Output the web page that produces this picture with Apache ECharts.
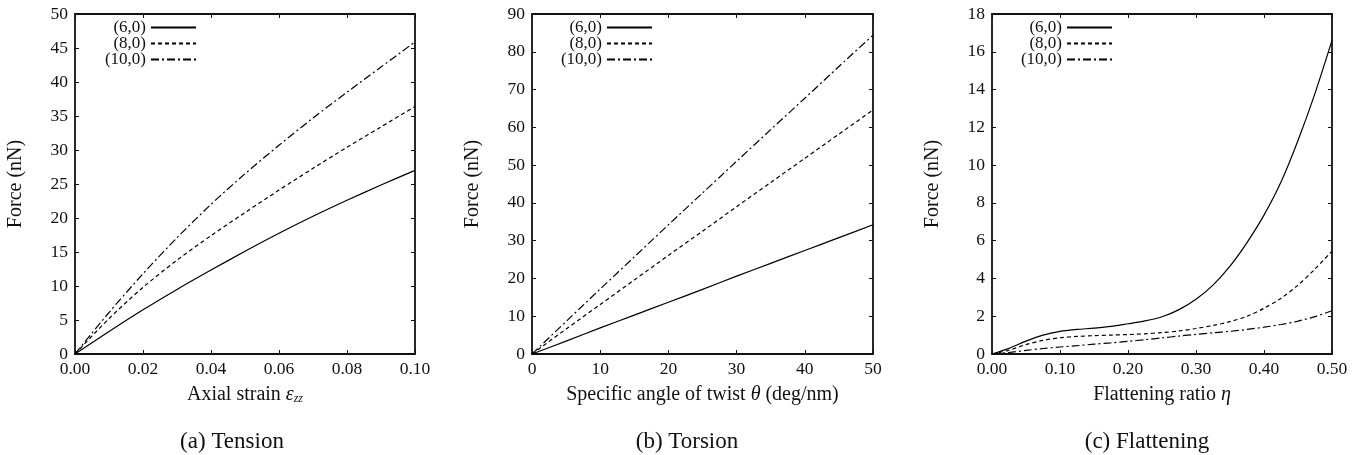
<!DOCTYPE html>
<html>
<head>
<meta charset="utf-8">
<script src="https://cdn.jsdelivr.net/npm/echarts@6/dist/echarts.min.js"></script>
<style>html,body{margin:0;padding:0;background:#fff}#c{width:1363px;height:455px}</style>
</head>
<body>
<div id="c"></div>
<script>
// ---------- data ----------
const seriesNames = ['(6,0)', '(8,0)', '(10,0)'];

// (a) Tension
const tensionX = [0, 0.01, 0.02, 0.03, 0.04, 0.05, 0.06, 0.07, 0.08, 0.09, 0.10];
const tension60 = [0, 3.3, 6.5, 9.5, 12.35, 15.1, 17.75, 20.25, 22.6, 24.85, 27.0];
const tension80 = [0, 5.2, 9.8, 13.8, 17.4, 20.8, 24.1, 27.3, 30.4, 33.4, 36.4];
const tension100 = [0, 6.1, 11.8, 17.1, 22.0, 26.5, 30.7, 34.7, 38.5, 42.2, 45.9];

// (b) Torsion
const torsionX = [0, 5, 10, 15, 20, 25, 30, 35, 40, 45, 50];
const torsion60 = [0, 3.4, 6.9, 10.3, 13.7, 17.1, 20.6, 24.0, 27.4, 30.8, 34.2];
const torsion80 = [0, 6.6, 13.1, 19.6, 26.1, 32.5, 39.0, 45.4, 51.8, 58.2, 64.6];
const torsion100 = [0, 8.6, 17.2, 25.7, 34.2, 42.6, 51.0, 59.4, 67.7, 76.1, 84.4];

// (c) Flattening
const flatX = [0, 0.025, 0.05, 0.075, 0.1, 0.125, 0.15, 0.175, 0.2, 0.225, 0.25, 0.275, 0.3, 0.325, 0.35, 0.375, 0.4, 0.425, 0.45, 0.475, 0.5];
const flat60 = [0, 0.3, 0.68, 1.0, 1.2, 1.3, 1.37, 1.46, 1.6, 1.75, 1.97, 2.35, 2.9, 3.65, 4.65, 5.9, 7.35, 9.1, 11.3, 13.8, 16.6];
const flat80 = [0, 0.2, 0.5, 0.72, 0.86, 0.93, 0.97, 1.0, 1.03, 1.07, 1.13, 1.22, 1.35, 1.51, 1.71, 2.0, 2.42, 2.95, 3.65, 4.5, 5.45];
const flat100 = [0, 0.08, 0.19, 0.29, 0.37, 0.44, 0.52, 0.59, 0.67, 0.76, 0.85, 0.95, 1.04, 1.12, 1.2, 1.3, 1.42, 1.56, 1.74, 1.98, 2.29];

const panelTitles = ['(a) Tension', '(b) Torsion', '(c) Flattening'];

// ---------- styling ----------
const FONT = '"Liberation Serif", "DejaVu Serif", serif';
const INK = '#111';
const lineTypes = ['solid', [4, 3], [8, 3, 2, 3]];

const panels = [
  {x: tensionX, ys: [tension60, tension80, tension100], xmin: 0, xmax: 0.1, xint: 0.02, ymax: 50, yint: 5,
   fmt: v => v.toFixed(2), xname: 'Axial strain {it|ε}{sub|zz}', grid: {left: 75, top: 14, width: 340, height: 340},
   legendRight: 1166, nameX: 232},
  {x: torsionX, ys: [torsion60, torsion80, torsion100], xmin: 0, xmax: 50, xint: 10, ymax: 90, yint: 10,
   fmt: v => String(v), xname: 'Specific angle of twist {it|θ} (deg/nm)', grid: {left: 532, top: 14, width: 341, height: 340},
   legendRight: 710, nameX: 687},
  {x: flatX, ys: [flat60, flat80, flat100], xmin: 0, xmax: 0.5, xint: 0.1, ymax: 18, yint: 2,
   fmt: v => v.toFixed(2), xname: 'Flattening ratio {it|η}', grid: {left: 992, top: 14, width: 340, height: 340},
   legendRight: 250, nameX: 1147}
];

const axisLine = {show: true, onZero: false, lineStyle: {color: INK, width: 1.8}};
const axisTick = {show: true, inside: true, length: 4, lineStyle: {color: INK, width: 1}};
const labelStyle = {color: INK, fontFamily: FONT, fontSize: 17.5};
const rich = {
  it: {fontFamily: FONT, fontSize: 20, fontStyle: 'italic', color: INK},
  sub: {fontFamily: FONT, fontSize: 12, fontStyle: 'italic', color: INK, verticalAlign: 'bottom', lineHeight: 12}
};

const grids = [], xAxes = [], yAxes = [], series = [], legends = [], graphics = [];
panels.forEach((p, i) => {
  grids.push(p.grid);
  xAxes.push({type: 'value', gridIndex: i, position: 'bottom', min: p.xmin, max: p.xmax, interval: p.xint,
    axisLine, axisTick, splitLine: {show: false},
    axisLabel: Object.assign({margin: 6, formatter: p.fmt}, labelStyle),
    name: p.xname, nameLocation: 'middle', nameGap: 31,
    nameTextStyle: {color: INK, fontFamily: FONT, fontSize: 20, rich}});
  xAxes.push({type: 'value', gridIndex: i, position: 'top', min: p.xmin, max: p.xmax, interval: p.xint,
    axisLine, axisTick, splitLine: {show: false}, axisLabel: {show: false}});
  yAxes.push({type: 'value', gridIndex: i, position: 'left', min: 0, max: p.ymax, interval: p.yint,
    axisLine, axisTick, splitLine: {show: false},
    axisLabel: Object.assign({margin: 7}, labelStyle),
    name: 'Force (nN)', nameLocation: 'middle', nameGap: 49,
    nameTextStyle: {color: INK, fontFamily: FONT, fontSize: 20}});
  yAxes.push({type: 'value', gridIndex: i, position: 'right', min: 0, max: p.ymax, interval: p.yint,
    axisLine, axisTick, splitLine: {show: false}, axisLabel: {show: false}});
  p.ys.forEach((ys, k) => {
    series.push({type: 'line', name: seriesNames[k], xAxisIndex: 2 * i, yAxisIndex: 2 * i,
      data: p.x.map((xv, j) => [xv, ys[j]]), symbol: 'none', smooth: 0.3, animation: false,
      lineStyle: {color: '#000', width: 1.2, type: lineTypes[k]}, itemStyle: {color: '#000'}});
  });
  legends.push({data: seriesNames, orient: 'vertical', align: 'right', right: p.legendRight, top: 19,
    itemWidth: 45, itemHeight: 10, itemGap: -1, padding: 0, selectedMode: false,
    itemStyle: {opacity: 0},
    textStyle: {color: INK, fontFamily: FONT, fontSize: 17}});
  graphics.push({type: 'text', x: p.nameX, y: 442,
    style: {text: panelTitles[i], align: 'center', verticalAlign: 'middle', fill: INK, font: '23px ' + FONT}});
});

const chart = echarts.init(document.getElementById('c'), null, {renderer: 'canvas'});
chart.setOption({
  animation: false,
  backgroundColor: '#fff',
  grid: grids, xAxis: xAxes, yAxis: yAxes, series, legend: legends, graphic: graphics
});
</script>
</body>
</html>
